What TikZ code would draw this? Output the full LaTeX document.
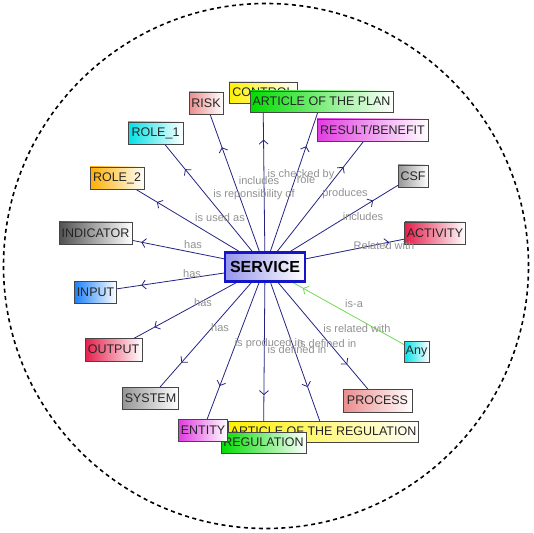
\documentclass[tikz,border=0pt]{standalone}
\usepackage{fontspec}
\setmainfont{Liberation Sans}
\usetikzlibrary{arrows.meta,decorations.markings,backgrounds}
\definecolor{edgeblue}{RGB}{35,35,130}
\definecolor{anygreen}{RGB}{110,220,80}
\definecolor{lblgray}{RGB}{145,145,145}
\definecolor{boxborder}{RGB}{70,70,70}
\definecolor{svcblue}{RGB}{20,20,200}
\definecolor{svcfill}{RGB}{150,150,235}
\definecolor{cpink}{RGB}{235,140,140}
\definecolor{cyellow}{RGB}{255,240,0}
\definecolor{cgreen}{RGB}{0,220,0}
\definecolor{cmagenta}{RGB}{225,60,225}
\definecolor{ccyan}{RGB}{0,225,230}
\definecolor{corange}{RGB}{255,175,0}
\definecolor{cdgray}{RGB}{80,80,80}
\definecolor{cgray}{RGB}{150,150,150}
\definecolor{ccrimson}{RGB}{230,30,75}
\definecolor{cblue}{RGB}{30,130,250}
\tikzset{
  box/.style={draw=boxborder, line width=0.8pt, font=\fontsize{12.5}{14}\selectfont,
    text=black!85, inner xsep=2pt, inner ysep=0pt, minimum height=22pt,
    left color=#1, right color=white},
  lbl/.style={font=\fontsize{11}{12}\selectfont, text=lblgray, inner sep=0pt},
  link/.style={draw=edgeblue, line width=0.8pt, postaction={decorate},
    decoration={markings, mark=at position #1 with {\arrow{Straight Barb[length=4pt,width=9pt]}}}},
  link/.default=0.73
}
\begin{document}
\begin{tikzpicture}[x=1pt,y=-1pt]
\useasboundingbox (0,0) rectangle (533,534);
\draw[black, line width=1.6pt, dash pattern=on 4pt off 3.5pt] (266,266) circle[radius=262.5pt];
\draw[black!18, line width=1pt] (0,533) -- (533,533);

% nodes
\node[draw=svcblue, line width=2.6pt, left color=svcfill, right color=white,
  font=\bfseries\fontsize{16}{18}\selectfont, minimum width=80pt, minimum height=29pt, inner sep=0pt]
  (svc) at (265,267) {SERVICE};
\node[box=cpink, minimum width=34pt] (risk) at (206,103) {RISK};
\node[box=cyellow, minimum width=68pt, minimum height=21pt] (control) at (263,92.5) {CONTROL};
\node[box=cgreen, minimum width=143pt, minimum height=21pt] (aotp) at (321.5,101.5) {ARTICLE OF THE PLAN};
\node[box=cmagenta, minimum width=111pt] (result) at (372.5,130) {RESULT/BENEFIT};
\node[box=ccyan, minimum width=55pt] (role1) at (155.5,133) {ROLE\_1};
\node[box=corange, minimum width=54pt] (role2) at (117,178) {ROLE\_2};
\node[box=cdgray, minimum width=73pt] (indicator) at (95.5,233) {INDICATOR};
\node[box=cgray, minimum width=30pt] (csf) at (413,176) {CSF};
\node[box=ccrimson, minimum width=58pt] (activity) at (435,233) {ACTIVITY};
\node[box=cblue, minimum width=41pt] (input) at (95.5,292) {INPUT};
\node[box=ccrimson, minimum width=57pt, minimum height=23pt] (output) at (113.5,349.5) {OUTPUT};
\node[box=cgray, minimum width=55pt] (system) at (150.5,398) {SYSTEM};
\node[box=ccyan, minimum width=25pt, minimum height=21pt, inner xsep=1pt] (any) at (416.5,351.5) {Any};
\node[box=cpink, minimum width=69pt, minimum height=23pt] (process) at (377.5,400.5) {PROCESS};
\node[box=cyellow, minimum width=189pt, minimum height=21pt] (aotr) at (323.5,431.5) {ARTICLE OF THE REGULATION};
\node[box=cgreen, minimum width=85pt, minimum height=21pt] (regulation) at (263.5,442.5) {REGULATION};
\node[box=cmagenta, minimum width=48pt] (entity) at (203,430) {ENTITY};

% connectors
\begin{scope}[on background layer]
\draw[link] (svc.center) -- (risk.center);
\draw[link] (svc.center) -- (control.center);
\draw[link] (svc.center) -- (aotp.center);
\draw[link] (svc.center) -- (result.center);
\draw[link] (svc.center) -- (role1.center);
\draw[link] (svc.center) -- (role2.center);
\draw[link] (svc.center) -- (indicator.center);
\draw[link] (svc.center) -- (csf.center);
\draw[link] (svc.center) -- (activity.center);
\draw[link] (svc.center) -- (input.center);
\draw[link] (svc.center) -- (output.center);
\draw[link] (svc.center) -- (system.center);
\draw[link] (svc.center) -- (entity.center);
\draw[link] (svc.center) -- (regulation.center);
\draw[link] (svc.center) -- (aotr.center);
\draw[link] (svc.center) -- (process.center);
\draw[link=0.75, draw=anygreen] (any.center) -- (svc.center);
\end{scope}

% labels
\node[lbl] (l1) at (193,245) {has};
\node[lbl] (l2) at (220,218) {is used as};
\node[lbl] (l3) at (254,195) {is reponsibility of};
\node[lbl] (l4) at (259,181) {includes};
\node[lbl] (l5) at (301,175) {is checked by};
\node[lbl] (l6) at (306,180) {role};
\node[lbl] (l7) at (345,194) {produces};
\node[lbl] (l8) at (363,217) {includes};
\node[lbl] (l9) at (384,246) {Related with};
\node[lbl] (l10) at (192,274) {has};
\node[lbl] (l11) at (203,303) {has};
\node[lbl] (l12) at (220,328) {has};
\node[lbl] (l13) at (269,344) {is produced in};
\node[lbl] (l14) at (297,350) {is defined in};
\node[lbl] (l15) at (327,344) {is defined in};
\node[lbl] (l16) at (357,329) {is related with};
\node[lbl] (l17) at (354,304) {is-a};
\end{tikzpicture}
\end{document}
